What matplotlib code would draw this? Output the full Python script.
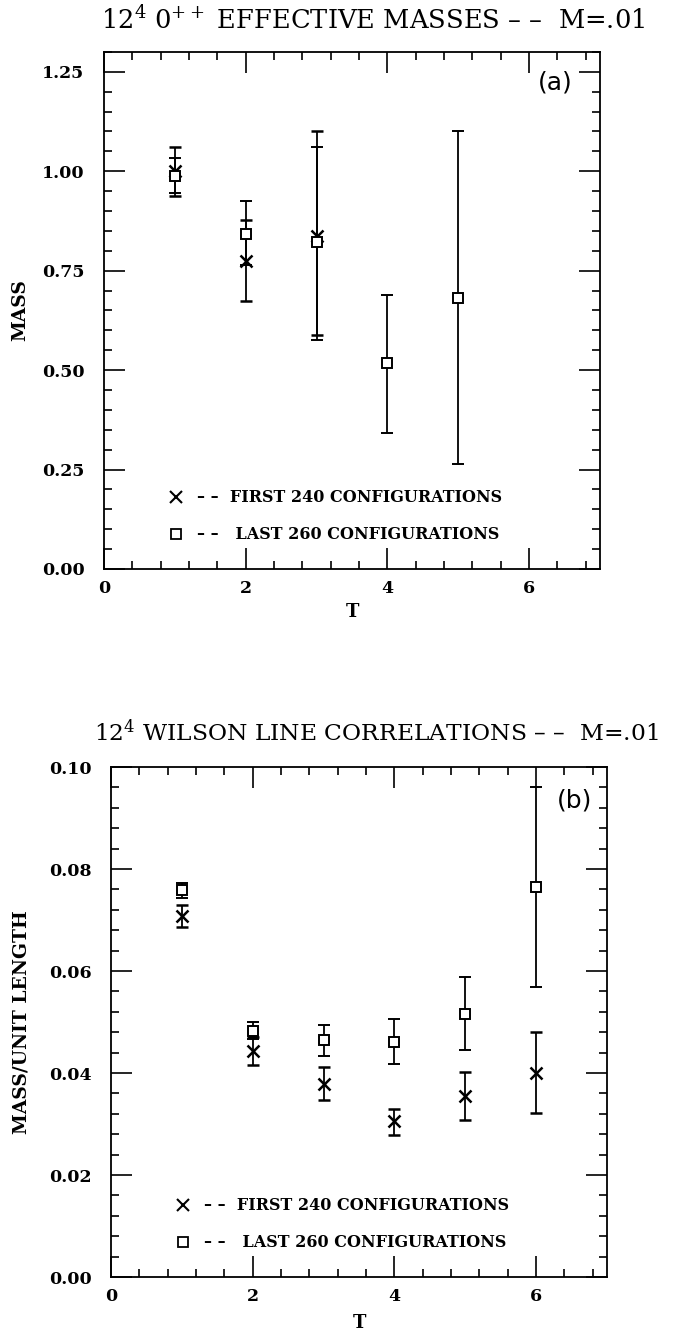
import numpy as np
import matplotlib
matplotlib.use('Agg')
import matplotlib.pyplot as plt
from matplotlib.lines import Line2D
from matplotlib.ticker import MultipleLocator, FormatStrFormatter

plt.rcParams['font.family'] = 'DejaVu Serif'
plt.rcParams['mathtext.fontset'] = 'dejavuserif'

# panel (a): 0++ effective masses
t_a_first = [1, 2, 3]
m_a_first = [1.000, 0.775, 0.838]
lo_a_first = [0.938, 0.673, 0.588]
hi_a_first = [1.061, 0.878, 1.101]

t_a_last = [1, 2, 3, 4, 5]
m_a_last = [0.988, 0.842, 0.823, 0.517, 0.680]
lo_a_last = [0.944, 0.765, 0.575, 0.342, 0.263]
hi_a_last = [1.032, 0.925, 1.062, 0.690, 1.101]

# panel (b): Wilson line correlations
t_b = [1, 2, 3, 4, 5, 6]
m_b_first = [0.0708, 0.0443, 0.0379, 0.0305, 0.0355, 0.0400]
lo_b_first = [0.0686, 0.0415, 0.0348, 0.0279, 0.0307, 0.0321]
hi_b_first = [0.0729, 0.0470, 0.0412, 0.0329, 0.0402, 0.0480]

m_b_last = [0.0758, 0.0483, 0.0465, 0.0461, 0.0516, 0.0765]
lo_b_last = [0.0743, 0.0467, 0.0434, 0.0418, 0.0445, 0.0568]
hi_b_last = [0.0773, 0.0501, 0.0494, 0.0505, 0.0588, 0.0961]

labels = ['\u2013 \u2013  FIRST 240 CONFIGURATIONS', '\u2013 \u2013   LAST 260 CONFIGURATIONS']

fig = plt.figure(figsize=(6.76, 13.34), dpi=100)
ax1 = fig.add_axes([0.1538, 0.5735, 0.7337, 0.3876])
ax2 = fig.add_axes([0.1642, 0.0427, 0.7337, 0.3823])


def err(m, lo, hi):
    m = np.array(m)
    return [m - np.array(lo), np.array(hi) - m]


def draw(ax, t1, m1, lo1, hi1, t2, m2, lo2, hi2):
    ax.errorbar(t1, m1, yerr=err(m1, lo1, hi1), fmt='x', color='black', ms=9,
                mew=1.8, elinewidth=1.3, capsize=4, capthick=1.3)
    ax.errorbar(t2, m2, yerr=err(m2, lo2, hi2), fmt='s', color='black', ms=7.5,
                mfc='white', mew=1.4, elinewidth=1.3, capsize=4, capthick=1.3)
    ax.set_xlim(0, 7)
    ax.xaxis.set_major_locator(MultipleLocator(2))
    ax.xaxis.set_minor_locator(MultipleLocator(0.4))
    ax.tick_params(which='both', direction='in', top=True, right=True, width=1.2)
    ax.tick_params(which='major', length=15)
    ax.tick_params(which='minor', length=6)
    ax.tick_params(axis='y', pad=14, labelsize=12.5)
    ax.tick_params(axis='x', pad=8, labelsize=12.5)
    for s in ax.spines.values():
        s.set_linewidth(1.3)
    handles = [Line2D([], [], marker='x', ls='none', color='black', ms=9, mew=1.5),
               Line2D([], [], marker='s', ls='none', color='black', ms=7.5, mfc='white', mew=1.3)]
    ax.legend(handles, labels, loc='lower left', bbox_to_anchor=(0.10, 0.022),
              frameon=False, handlelength=1.0, handletextpad=0.8,
              labelspacing=1.25, prop={'size': 11.5, 'weight': 'bold'})


draw(ax1, t_a_first, m_a_first, lo_a_first, hi_a_first,
     t_a_last, m_a_last, lo_a_last, hi_a_last)
ax1.set_ylim(0, 1.30)
ax1.yaxis.set_major_locator(MultipleLocator(0.25))
ax1.yaxis.set_minor_locator(MultipleLocator(0.05))
ax1.yaxis.set_major_formatter(FormatStrFormatter('%.2f'))
ax1.set_ylabel('MASS', fontsize=13.5, fontweight='bold')
ax1.yaxis.set_label_coords(-0.15, 0.5)
ax1.set_xlabel('T', fontsize=13, fontweight='bold')
ax1.xaxis.set_label_coords(0.5, -0.066)
ax1.text(0.91, 0.94, '(a)', transform=ax1.transAxes, family='DejaVu Sans',
         fontsize=18, ha='center', va='center')

draw(ax2, t_b, m_b_first, lo_b_first, hi_b_first,
     t_b, m_b_last, lo_b_last, hi_b_last)
ax2.set_ylim(0, 0.10)
ax2.yaxis.set_major_locator(MultipleLocator(0.02))
ax2.yaxis.set_minor_locator(MultipleLocator(0.004))
ax2.yaxis.set_major_formatter(FormatStrFormatter('%.2f'))
ax2.set_ylabel('MASS/UNIT LENGTH', fontsize=13.5, fontweight='bold')
ax2.yaxis.set_label_coords(-0.163, 0.5)
ax2.set_xlabel('T', fontsize=13, fontweight='bold')
ax2.xaxis.set_label_coords(0.5, -0.072)
ax2.text(0.935, 0.935, '(b)', transform=ax2.transAxes, family='DejaVu Sans',
         fontsize=18, ha='center', va='center')

for lab in ax1.get_xticklabels() + ax1.get_yticklabels() + ax2.get_xticklabels() + ax2.get_yticklabels():
    lab.set_fontweight('bold')

fig.text(0.552, 0.985, '12$^4$ 0$^{++}$ EFFECTIVE MASSES \u2013 \u2013  M=.01',
         ha='center', va='center', fontsize=18.5)
fig.text(0.556, 0.451, '12$^4$ WILSON LINE CORRELATIONS \u2013 \u2013  M=.01',
         ha='center', va='center', fontsize=16.8)

fig.savefig('out.png', dpi=100)
